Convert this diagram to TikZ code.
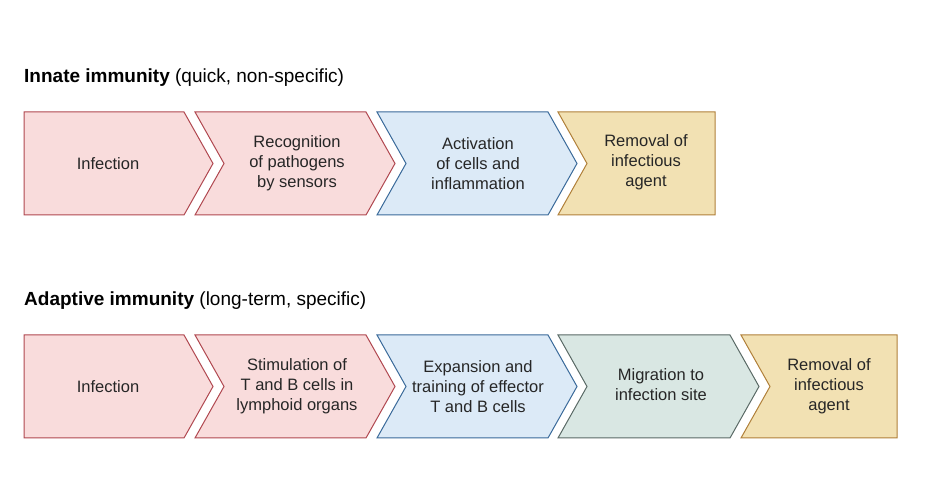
\documentclass[tikz,border=0pt]{standalone}
\usepackage{fontspec}
\setmainfont{Liberation Sans}
\definecolor{pkf}{HTML}{F9DCDC}\definecolor{pkd}{HTML}{B04850}
\definecolor{blf}{HTML}{DCEAF7}\definecolor{bld}{HTML}{3A6A9A}
\definecolor{gnf}{HTML}{D9E7E3}\definecolor{gnd}{HTML}{5A6A66}
\definecolor{ylf}{HTML}{F2E1B3}\definecolor{yld}{HTML}{B0803A}
\newcommand{\chev}[7]{% fill,draw, L, R, yTop, notch(0/1), tip(0/1)
  \filldraw[fill=#1,draw=#2,line width=1pt]
   (#3,#5) -- (#4,#5) -- ++(#7*29,-51.5) -- (#4,#5-103) -- (#3,#5-103) -- ++(#6*29,51.5) -- cycle;}
\begin{document}
\begin{tikzpicture}[x=1pt,y=1pt,
  lbl/.style={align=center,font=\fontsize{16.5}{20}\selectfont,text=black!85},
  ttl/.style={anchor=west,font=\fontsize{19}{22}\selectfont,inner sep=0}]
\useasboundingbox (0,0) rectangle (927,487);
\node[ttl] (t1) at (24,409) {\textbf{Innate immunity} (quick, non-specific)};
\chev{pkf}{pkd}{24}{184}{375}{0}{1}
\chev{pkf}{pkd}{195}{366}{375}{1}{1}
\chev{blf}{bld}{377}{548}{375}{1}{1}
\chev{ylf}{yld}{558}{715}{375}{1}{0}
\node[lbl] (a1) at (108,323.5) {Infection};
\node[lbl] (a2) at (297,323.5) {Recognition\\of pathogens\\by sensors};
\node[lbl] (a3) at (478,323.5) {Activation\\of cells and\\inflammation};
\node[lbl] (a4) at (646,325) {Removal of\\infectious\\agent};
\node[ttl] (t2) at (24,186) {\textbf{Adaptive immunity} (long-term, specific)};
\chev{pkf}{pkd}{24}{184}{152}{0}{1}
\chev{pkf}{pkd}{195}{366}{152}{1}{1}
\chev{blf}{bld}{377}{548}{152}{1}{1}
\chev{gnf}{gnd}{558}{730}{152}{1}{1}
\chev{ylf}{yld}{741}{897}{152}{1}{0}
\node[lbl] (b1) at (108,100.5) {Infection};
\node[lbl] (b2) at (297,100.5) {Stimulation of\\T and B cells in\\lymphoid organs};
\node[lbl] (b3) at (478,100.5) {Expansion and\\training of effector\\T and B cells};
\node[lbl] (b4) at (661,102) {Migration to\\infection site};
\node[lbl] (b5) at (829,100.5) {Removal of\\infectious\\agent};
\end{tikzpicture}
\end{document}
